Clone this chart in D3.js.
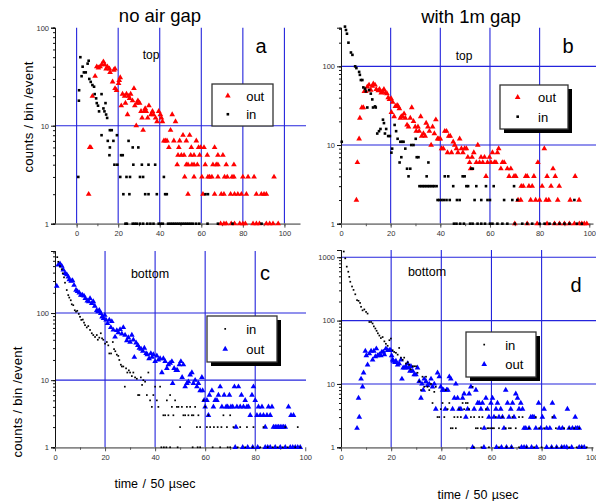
<!DOCTYPE html>
<html>
<head>
<meta charset="utf-8">
<script src="https://cdn.jsdelivr.net/npm/d3@7"></script>
<style>
body { margin: 0; background: #fff; }
svg { font-family: "Liberation Sans", Arial, sans-serif; }
</style>
</head>
<body>
<svg id="chart" width="596" height="501"></svg>
<script>
// ---------------- data: [time bin, counts/bin/event] ----------------
const xTicks = [0, 20, 40, 60, 80, 100];

// panel a : top, no air gap
const aOut = [[5.8,2],[6.3,6],[6.8,6],[7.6,20],[8.9,32],[9.7,40],[10.5,39],[11.3,40],[12.1,42],[12.9,45],[13.5,42],[14.2,38],[14.8,40],[15.8,38],[16.1,35],[17.3,28],[17.9,37],[18.5,38],[18.5,24],[19.2,23],[20.2,27],[20.5,29],[21,31],[21.5,16],[22.1,21],[23.1,20],[23.5,17],[24,21],[24.5,13],[25,20],[25.5,19],[26,21],[26.9,18],[27.6,24],[28,16],[28.7,10],[29,17],[29.5,18],[30.3,17],[31,14],[31.5,12],[32,9],[32.6,14],[33,15],[33.5,14],[34.2,12],[34.8,16],[35.8,13],[36.5,14],[37,13],[38,12],[38.7,11],[39.5,14],[40.3,13],[40.8,12],[41.3,11],[42,7],[42.7,7],[43.5,7],[44.4,6],[45.2,9],[46,13],[46.8,7],[47.6,11],[48.4,4],[48.8,5],[49.2,6],[49.6,7],[50.4,5],[51.2,8],[51.7,5],[52,3],[52.8,7],[52.8,4],[53.6,4],[53.6,2],[54.4,8],[54.9,5],[55.2,6],[55.5,4],[56.5,5],[56.5,4],[56.5,3],[57.6,7],[58.1,4],[58.7,6],[59.2,5],[59.7,6],[60.3,3],[60.8,2],[61.3,6],[61.9,4],[62.9,5],[63.2,3],[64,3],[65.1,3],[65.6,4],[66.4,6],[66.4,2],[67.2,4],[68,5],[68,4],[68,3],[69.6,2],[70.4,5],[70.9,2],[71.2,3],[72,4],[72.5,3],[74.1,2],[74.8,3],[75.7,4],[75.7,3],[76,2],[77.6,2],[79.3,2],[80,3],[81.7,2],[82.5,3],[85.4,3],[86.5,2],[88.9,2],[90.2,2],[91.3,2],[95,3],
  [69.3,1],[70.9,1],[72,1],[74.4,1],[76,1],[78.5,1],[80,1],[81.2,1],[84.9,1],[86.5,1],[88,1],[91.3,1],[92.9,1],[94.5,1],[97,1]];
const aIn = [[0.8,3],[1.1,18],[1.2,23],[1.8,50],[2.4,32],[2.9,40],[3.5,35],[4.4,35],[5.3,43],[5.8,46],[6.1,30],[6.8,28],[7.6,26],[8.4,25],[8.7,21],[9.4,19],[9.7,17],[10.3,16],[10.8,14],[12,21],[12,8],[12.9,15],[13.4,14],[13.9,17],[14.2,13],[14.7,12],[15,7],[15.8,5],[16,6],[16,9],[16.9,9],[17.7,7],[18.2,4],[19.6,4],[19.4,8],[21,3],[21.4,5],[22.2,5],[22.5,2],[24,3],[25,7],[25.4,2],[25.7,3],[27,6],[27.3,4],[29.7,6],[30.5,3],[31.4,4],[32,3],[33,2],[34.6,4],[34.6,2],[37.8,4],[38.6,2],[42,3],[42.6,2],[43.4,2],[62,2],[63.2,2],
  [23.5,1],[24.2,1],[27,1],[28,1],[29,1],[30.5,1],[32,1],[34,1],[35.5,1],[37,1],[39.5,1],[40.5,1],[41.5,1],[44,1],[45,1],[46,1],[47,1],[48,1],[49,1],[50,1],[51,1],[52,1],[53,1],[54,1],[55,1],[56,1],[57.5,1],[59,1],[63,1],[68,1],[75,1],[89,1]];

// panel b : top, with 1m gap
const bOut = [[6.2,2],[6.6,6],[7.3,12],[7.6,22],[8.4,30],[9,30],[9.4,48],[10,48],[10.6,55],[11.3,58],[12,50],[12.6,56],[13,60],[13.7,58],[14.2,51],[15,49],[15.5,51],[16.2,46],[16.6,48],[17.3,51],[17.9,46],[18.5,45],[19,40],[19.5,38],[20.2,39],[20.3,26],[20.8,35],[21.4,23],[21.9,31],[22.6,32],[23,31],[23.5,29],[23.9,22],[24.3,23],[24.8,23],[25.4,25],[25.9,22],[26.6,18],[27.2,17],[27.9,22],[28.5,30],[29.2,20],[29.9,17],[30.3,15],[31,17],[31.5,15],[32.1,23],[32.5,13],[33.2,14],[33.9,13],[34.3,19],[35,17],[35.6,15],[36.3,10],[36.9,17],[37.6,14],[38.2,21],[38.9,12],[39.4,12],[40,12],[40.5,9],[41.2,9],[41.8,15],[42.5,15],[42.9,8],[43.4,13],[44,13],[44.5,8],[45.2,11],[45.8,10],[46.5,9],[47.1,8],[47.8,12],[48.5,9],[49.1,8],[49.8,9],[50.5,9],[51.1,7],[51.8,6],[52.2,5],[52.8,7],[53.5,8],[54.5,6],[55.1,10],[55.8,6],[56.4,7],[57.1,6],[57.8,7],[58.4,4],[59,6],[59.8,7],[60.4,6],[61,8],[61.8,6],[62.4,6],[63,8],[63.5,9],[64.4,5],[65,6],[65.7,6],[67,5],[67.7,4],[68.4,5],[69.7,4],[70.4,4],[71.3,2],[72.4,2],[72.6,3],[73.4,3],[74.4,4],[75,4],[75.7,3],[76.4,2],[77,3],[77.7,4],[78.4,2],[79.3,6],[80,2],[81,3],[81.9,9],[82.6,2],[83,4],[83.7,2],[84.6,3],[85.4,5],[86.3,4],[87.3,2],[87.9,3],[92.3,2],[94.3,4],[95.9,2],
  [70,1],[75,1],[79,1],[83,1],[86,1],[88,1],[90,1],[92,1],[94,1],[96,1],[97,1],[98,1],[99,1]];
const bIn = [[0.3,11],[1.6,320],[2,290],[2.4,260],[3,200],[4,150],[4.6,140],[5.7,100],[6.2,95],[7.3,85],[7.6,78],[8,67],[8.6,67],[9,54],[9.7,52],[10,48],[10.6,30],[11.3,50],[12,45],[12.6,38],[12.9,30],[13.7,31],[14,30],[14.6,14],[15.3,15],[15.9,16],[16.9,21],[17.3,19],[17.7,14],[18.2,16],[19,13],[19.7,13],[20.3,8],[20.6,9],[21.6,18],[22.2,15],[22.8,12],[23.6,6],[23.9,11],[24.3,7],[24.6,11],[25.2,11],[25.9,9],[26.6,5],[27.2,4],[27.9,5],[28.3,10],[29.2,10],[30.1,12],[30.5,7],[31.2,7],[31.6,3],[32.3,3],[33,3],[33.6,3],[34.3,3],[34.5,4],[35,3],[35.2,6],[35.6,3],[36.3,3],[37,3],[37.6,3],[38.5,3],[38.9,2],[39.6,2],[40.5,2],[41.4,2],[41.8,4],[42.5,2],[43.2,4],[43.8,2],[45.2,3],[46.7,2],[47.8,2],[49,4],[49.8,4],[50.5,3],[51.2,3],[52.5,5],[53.1,5],[53.8,2],[54.5,3],[56.5,2],[58.4,3],[59,2],[60,2],[61.5,3],[65.7,2],[69,2],[69.7,3],[71,2],[94,2],
  [45.5,1],[46.5,1],[48,1],[49.5,1],[52,1],[53,1],[55,1],[56.5,1],[58,1],[60,1],[61,1],[63,1],[65,1],[67,1],[70,1],[73,1],[75,1],[77,1],[80,1],[82,1],[84,1],[86,1],[88,1],[90,1],[92,1],[95,1],[97,1]];

// panel c : bottom, no air gap
const cIn = [[0.9,680],[1.3,580],[2,500],[2.7,450],[3.1,390],[3.6,340],[4,283],[4.7,220],[5.3,185],[5.7,170],[6.3,155],[6.7,135],[7.3,131],[7.9,110],[8.4,105],[8.9,108],[9.5,97],[10,88],[10.5,79],[11.1,80],[11.6,72],[12,66],[12.7,61],[13.3,64],[14,56],[14.7,50],[15.3,47],[16,44],[16.7,47],[17.1,40],[17.7,43],[18.3,50],[18.8,42],[19.3,40],[20,35],[20.7,37],[21.3,33],[21.7,25],[22.4,25],[23.1,37],[23.6,29],[24.1,27],[24.7,24],[25.3,23],[25.7,20],[26.3,17],[26.7,16],[27.3,16],[27.9,8],[28.4,15],[28.9,13],[29.5,14],[30,13],[30.7,11.5],[31.3,13],[32,11],[32.7,10.5],[33.2,6],[33.7,6],[34.3,11],[34.8,8.5],[35.3,10],[36,9.5],[36.7,6],[37.3,13],[38,5],[38.7,4],[39.3,6],[40,8],[40.7,5],[41.3,4],[42,8],[43.3,3],[44,3],[44.7,5],[45.3,3],[46,6],[46.7,4],[47.3,3],[48,5],[48.7,4],[49.3,4],[50,2],[50.7,4],[51.3,3],[52,3],[52.7,4],[53.3,3],[54,4],[54.7,3],[55.3,3],[56,4],[56.7,2],[57.3,3],[58,2],[59.3,5],[60,4],[60.7,2],[61.3,3],[62,2],[63.5,2],[65,2],[66.5,2],[67.3,3],[68.7,2],[70,3],[71.3,2],[74,2],[76.7,2],[79.3,2],[83.3,2],[92,2],[97,2],
  [42.5,1],[43.5,1],[44.5,1],[46,1],[49,1],[55,1],[57,1],[58,1],[63,1],[66,1],[69,1],[70,1],[73,1],[76,1],[79,1],[82,1],[85,1],[87,1],[89,1],[91,1],[93,1],[96,1],[98,1]];
const cOut = [[0.7,252],[1.3,520],[2,540],[2.7,500],[3.3,440],[4,390],[4.7,375],[5.3,345],[5.7,315],[6.4,300],[7,305],[7.6,260],[8.4,220],[9,210],[9.7,200],[10.3,185],[10.9,185],[11.6,180],[12.1,165],[12.9,152],[13.5,148],[14,165],[14.7,140],[15.3,148],[15.9,127],[16.7,110],[17.2,105],[17.7,110],[18.3,99],[18.8,88],[19.4,83],[19.9,93],[20.4,79],[21,70],[21.7,79],[22.3,61],[22.7,75],[23.3,56],[24,44],[24.7,55],[25.3,51],[26,57],[26.7,49],[27.3,61],[28,47],[28.7,39],[29.3,43],[30,37],[30.7,47],[31.3,40],[31.7,22],[32.4,36],[33.1,33],[33.7,30],[34.4,29],[35.1,27],[35.7,30],[36.4,25],[36.9,24],[37.6,21],[38.3,25],[38.8,22],[39.3,24],[40,19],[40.7,23],[41.3,20],[42,21],[42.7,13],[43.3,21],[44,19],[44.7,15],[45.3,17],[46,18],[46.7,19],[47,9],[47.6,15],[48.4,14],[48.9,14],[49.7,17],[50.3,19],[50.8,11],[51.3,17],[52,8],[52.7,9],[53.3,9.5],[54,12],[54.7,13],[55.3,9],[56,10],[56.7,8],[57.3,9],[58,7],[58.7,11],[59,7],[59.6,5],[60,4],[60.7,5],[61.3,3],[61.7,6],[62.7,7],[63.3,4],[64,5],[64.7,5],[65.3,6],[66,8],[66.7,4],[67.6,6],[68.4,4],[69,4],[69.7,6],[70.3,4],[71,4],[71.7,8],[72.3,2],[72.7,4],[73.3,8],[74,4],[74.5,6],[75.3,4],[76,5],[76.7,4],[77.3,4],[78,3],[78.7,6],[79.3,8],[80,5],[80.7,3],[81.3,4],[82,3],[82.7,4],[83.3,3],[84,2],[84.7,3],[85.3,4],[86,3],[86.7,4],[87.3,2],[88,2],[88.7,2],[89.3,2],[90,2],[90.7,2],[91.3,2],[92,2],[93.3,4],[94.3,3],[95.3,3],
  [72,1],[75,1],[77,1],[79,1],[81,1],[84,1],[85,1],[86,1],[88,1],[90,1],[92,1],[94,1],[95,1],[96,1],[97,1],[98,1]];

// panel d : bottom, with 1m gap
const dIn = [[1.1,1230],[1.7,960],[2.3,710],[2.9,590],[3.3,490],[3.7,410],[4.4,345],[5,305],[5.7,260],[6.4,210],[7,205],[7.6,190],[8,165],[8.6,145],[9.3,150],[10,137],[10.6,129],[11.3,95],[12,95],[12.6,90],[13.1,81],[13.7,75],[14.2,69],[14.7,63],[15.3,58],[15.9,53],[16.6,55],[17.3,47],[17.9,43],[18.6,40],[19.3,49],[19.9,52],[20.6,34],[21.2,32],[21.9,31],[22.6,29],[23.2,37],[23.9,26],[24.6,24],[25.2,26],[25.9,21],[26.6,22],[27.2,20],[27.9,17],[28.6,19],[29.2,19],[29.9,19],[30.5,15],[31.2,11],[31.9,8],[32.5,13],[33.2,9],[33.9,13],[34.5,9],[35.2,8],[35.9,10],[36.5,5],[37.2,7.5],[37.8,9],[38.5,3],[39.2,3],[39.8,4],[40.5,5],[41.2,3],[41.8,8],[42.5,4],[43.2,5],[43.8,2],[44.5,2],[45.2,3],[45.8,2],[46.5,3],[47.1,4],[47.8,3],[48.5,5],[49.1,4],[49.8,5],[50.5,5],[51.1,4],[51.8,3],[52.5,9],[53.1,3],[53.8,2],[54.5,2],[55.1,3],[55.8,2],[56.4,3],[57.8,4],[58.4,2],[59,2],[59.8,2],[60.4,2],[61,2],[61.8,3],[63,2],[64.4,3],[65.7,2],[67,2],[67.7,2],[68.4,3],[69.7,2],[71,3],[72.4,3],[75,2],[77.7,3],[79,2],[81,2],[84.3,3],[85.7,2],[89,2],[91,2],[93,2],[95,2],
  [53,1],[56,1],[59,1],[63,1],[66,1],[68,1],[71,1],[74,1],[77,1],[80,1],[84,1],[86,1],[88,1],[91,1],[94,1],[96,1],[98,1]];
const dOut = [[6.4,2],[7.3,3],[7,6],[8,12],[8.6,9],[9,15],[9.7,33],[10.1,28],[10.6,20],[11.3,30],[12,33],[12.6,24],[13.1,33],[13.7,27],[14.1,36],[14.6,28],[15.3,29],[15.9,28],[16.3,32],[16.9,32],[17.3,29],[17.9,36],[18.6,34],[19.3,34],[19.8,34],[20.2,28],[20.6,24],[20.9,23],[21.5,22],[21.9,23],[22.6,20],[23.2,21],[23.9,24],[24.3,12],[24.8,18],[25.5,18],[25.9,19],[26.6,21],[27,18],[27.5,16],[27.9,19],[28.6,16],[29.2,14],[29.9,14],[30.5,18],[31.2,11],[31.9,6],[32.3,10],[32.8,8],[33.2,12],[33.9,11],[34.5,9.5],[35.2,10],[35.9,12],[36.5,9],[37.2,10],[37.8,4],[38.5,15],[39.2,13],[39.8,9],[40.5,8],[40.9,8],[41.6,4],[42.1,8],[42.6,8],[43.2,13],[43.8,12],[44.5,4],[45.2,6],[45.8,10],[46.5,6],[47.1,4],[47.8,4],[48.5,6],[49.1,7],[49.8,3],[50.5,4],[51.1,7],[51.8,9],[53.1,4],[53.8,8],[54.5,5],[55.1,5],[55.8,4],[56.4,5],[57.1,2],[57.8,6],[58.4,4],[59,3],[59.8,5],[60.4,6],[61,3],[61.8,4],[62.4,5],[63,3],[63.7,4],[64.4,3],[65,2],[65.7,8],[66.4,5],[67,3],[67.7,4],[68.4,5],[69,3],[69.7,7],[70.4,6],[71,4],[71.7,5],[72.4,4],[73,2],[73.7,2],[75,2],[75.7,3],[76.4,3],[77,3],[77.7,2],[78.8,5],[79.7,2],[80.3,3],[81,4],[82,2],[83.3,2],[84.3,5],[85,3],[87,2],[88.3,2],[90.3,4],[91,2],[92.3,2],[93.4,3],[93.6,2],[94.3,2],[95,2],
  [52.5,1],[57,1],[62,1],[64,1],[66,1],[68,1],[72,1],[73,1],[74,1],[76,1],[78,1],[82,1],[84,1],[86,1],[88,1],[89,1],[90,1],[92,1],[95,1],[96,1],[97,1]];

// ---------------- layout ----------------
const svg = d3.select("#chart");
const gridColor = "#2424dc";

const panels = [
  { out: aOut, inn: aIn, outColor: "#ff0000", small: false, xMin: -10.4, xMax: 107.5, left: 55, right: 300, top: 27.7, bottom: 223.7, yMax: 100,
    vGrid: [0, 20, 40, 60, 80, 100], hGrid: [10], gridRight: 306, letter: ["a", 261, 53], sub: ["top", 151, 59],
    legend: { x: 212, y: 84, w: 61, h: 42, shadow: false, order: ["out", "in"] } },
  { out: bOut, inn: bIn, outColor: "#ff0000", small: false, xMin: 0, xMax: 101.5, left: 341, right: 593, top: 27.7, bottom: 223.7, yMax: 310,
    vGrid: [20, 40, 60, 80], hGrid: [10, 100], gridRight: 596, letter: ["b", 568, 53], sub: ["top", 464, 60],
    legend: { x: 500, y: 85, w: 68, h: 44, shadow: true, order: ["out", "in"] } },
  { out: cOut, inn: cIn, outColor: "#0000ff", small: true, xMin: 0, xMax: 97.9, left: 55, right: 300, top: 251, bottom: 447.3, yMax: 840,
    vGrid: [20, 40, 60, 80], hGrid: [10, 100], gridRight: 306, letter: ["c", 265, 280], sub: ["bottom", 150, 278],
    legend: { x: 207, y: 316, w: 70, h: 46, shadow: true, order: ["in", "out"] } },
  { out: dOut, inn: dIn, outColor: "#0000ff", small: true, xMin: 0, xMax: 100.5, left: 341, right: 593, top: 250, bottom: 447.3, yMax: 1300,
    vGrid: [20, 40, 60, 80], hGrid: [10, 100, 1000], gridRight: 596, letter: ["d", 576, 292], sub: ["bottom", 427, 276],
    legend: { x: 466, y: 332, w: 70, h: 45, shadow: true, order: ["in", "out"] } }
];

const tri = d3.symbol().type(d3.symbolTriangle).size(14);

panels.forEach(p => {
  const x = d3.scaleLinear().domain([p.xMin, p.xMax]).range([p.left, p.right]);
  const y = d3.scaleLog().domain([1, p.yMax]).range([p.bottom, p.top]);
  const g = svg.append("g");

  // grid lines
  g.selectAll(".vg").data(p.vGrid).join("line")
    .attr("x1", d => x(d)).attr("x2", d => x(d))
    .attr("y1", p.top).attr("y2", p.bottom)
    .attr("stroke", gridColor).attr("stroke-width", 1.1);
  g.selectAll(".hg").data(p.hGrid).join("line")
    .attr("x1", p.left).attr("x2", p.gridRight)
    .attr("y1", d => y(d)).attr("y2", d => y(d))
    .attr("stroke", gridColor).attr("stroke-width", 1.1);

  // left axis: minor ticks + labelled decades
  const decades = y.ticks().filter(v => Math.abs(Math.log10(v) % 1) < 1e-9);
  g.append("g").attr("transform", `translate(${p.left},0)`)
    .call(d3.axisLeft(y).tickValues(y.ticks()).tickSize(2).tickFormat(""))
    .call(a => a.selectAll("line,path").attr("stroke", "#111"));
  const ya = g.append("g").attr("transform", `translate(${p.left},0)`)
    .call(d3.axisLeft(y).tickValues(decades).tickSize(4).tickPadding(2).tickFormat(d3.format("d")));
  ya.select(".domain").attr("stroke", "#111");
  ya.selectAll("line").attr("stroke", "#111");
  ya.selectAll("text").attr("font-size", "7.5px").attr("fill", "#333").attr("font-family", "Liberation Sans, Arial, sans-serif");

  // bottom axis
  const minorX = d3.range(0, 101, 10).filter(v => v >= p.xMin && v <= p.xMax);
  g.append("g").attr("transform", `translate(0,${p.bottom})`)
    .call(d3.axisBottom(x).tickValues(minorX).tickSize(2.5).tickSizeOuter(0).tickFormat(""))
    .call(a => a.selectAll("line").attr("stroke", "#555"))
    .call(a => a.select(".domain").attr("stroke", "#888").attr("stroke-width", 1.8));
  const xa = g.append("g").attr("transform", `translate(0,${p.bottom})`)
    .call(d3.axisBottom(x).tickValues(xTicks.filter(v => v <= p.xMax + 3)).tickSize(4).tickSizeOuter(0).tickPadding(3));
  xa.select(".domain").remove();
  xa.selectAll("line").attr("stroke", "#555");
  xa.selectAll("text").attr("font-size", "7.5px").attr("fill", "#333").attr("font-family", "Liberation Sans, Arial, sans-serif");

  // points
  g.selectAll(".out").data(p.out).join("path")
    .attr("d", tri)
    .attr("transform", d => `translate(${x(d[0])},${y(d[1])})`)
    .attr("fill", p.outColor);
  const s = p.small ? 1.7 : 2.6;
  g.selectAll(".in").data(p.inn).join("rect")
    .attr("x", d => x(d[0]) - s / 2).attr("y", d => y(d[1]) - s / 2)
    .attr("width", s).attr("height", s)
    .attr("fill", "#000");

  // panel texts
  g.append("text").attr("x", p.letter[1]).attr("y", p.letter[2])
    .attr("text-anchor", "middle").style("font-size", "20px").text(p.letter[0]);
  g.append("text").attr("x", p.sub[1]).attr("y", p.sub[2])
    .attr("text-anchor", "middle").style("font-size", p.sub[0] === "top" ? "12px" : "12.5px").text(p.sub[0]);

  // legend
  const L = p.legend;
  const lg = g.append("g").attr("transform", `translate(${L.x},${L.y})`);
  if (L.shadow) lg.append("rect").attr("x", 4).attr("y", 4).attr("width", L.w).attr("height", L.h).attr("fill", "#000");
  lg.append("rect").attr("width", L.w).attr("height", L.h)
    .attr("fill", "#fff").attr("stroke", "#333").attr("stroke-width", 1.3);
  L.order.forEach((name, i) => {
    const cy = L.h * (i === 0 ? 0.28 : 0.72);
    if (name === "out") {
      lg.append("path").attr("d", tri).attr("transform", `translate(${L.w * 0.26},${cy})`).attr("fill", p.outColor);
    } else {
      lg.append("rect").attr("x", L.w * 0.26 - s / 2).attr("y", cy - s / 2).attr("width", s).attr("height", s).attr("fill", "#000");
    }
    lg.append("text").attr("x", L.w * 0.56).attr("y", cy + 5)
      .style("font-size", "13px").text(name);
  });
});

// titles and axis labels
svg.append("text").attr("x", 160).attr("y", 22).attr("text-anchor", "middle").style("font-size", "18.5px").text("no air gap");
svg.append("text").attr("x", 471).attr("y", 23).attr("text-anchor", "middle").style("font-size", "18.5px").text("with 1m gap");

svg.append("text").attr("transform", "translate(33,117) rotate(-90)").attr("text-anchor", "middle")
  .style("font-size", "13px").style("letter-spacing", "0.3px").text("counts / bin /event");
svg.append("text").attr("transform", "translate(22,402) rotate(-90)").attr("text-anchor", "middle")
  .style("font-size", "13px").style("letter-spacing", "0.3px").text("counts / bin /event");

svg.append("text").attr("x", 155).attr("y", 488).attr("text-anchor", "middle").style("font-size", "12.5px").style("word-spacing", "1px").text("time / 50 \u00b5sec");
svg.append("text").attr("x", 478).attr("y", 499).attr("text-anchor", "middle").style("font-size", "12.5px").style("word-spacing", "1px").text("time / 50 \u00b5sec");
</script>
</body>
</html>
